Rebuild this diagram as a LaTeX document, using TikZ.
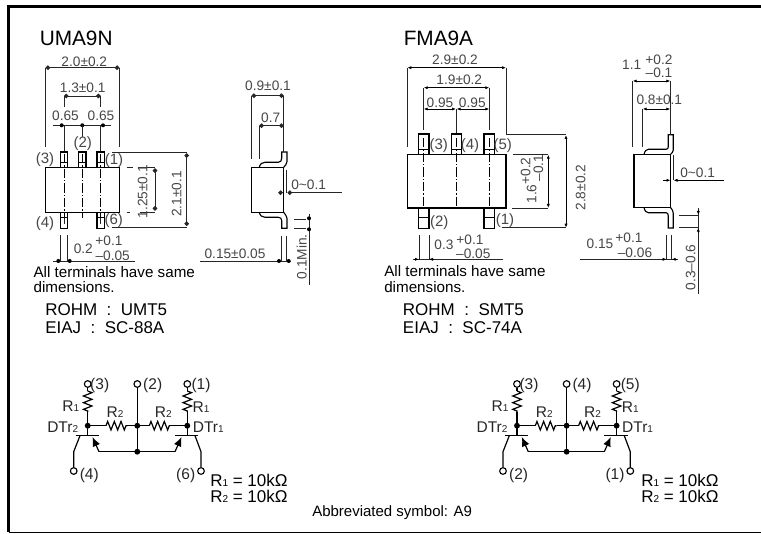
\documentclass[tikz,border=0pt]{standalone}
\usepackage{fontspec}
\setmainfont{Liberation Sans}
\usetikzlibrary{arrows.meta,decorations.pathmorphing}
\newcommand{\fsz}[1]{\fontsize{\dimexpr#1pt*3/4\relax}{\dimexpr#1pt*3/4\relax}\selectfont}
\newcommand{\sbs}[1]{{\fsz{10}#1}}
\tikzset{
  x=0.75pt,y=-0.75pt,
  dimtext/.style={inner sep=0pt,text=black!72,font=\fsz{13.7}},
  lab/.style={inner sep=0pt,text=black!72,font=\fsz{15}},
  bigtext/.style={inner sep=0pt,anchor=west,font=\fsz{20.8}},
  note/.style={inner sep=0pt,anchor=west,font=\fsz{15.2}},
  stdtext/.style={inner sep=0pt,anchor=west,font=\fsz{17}},
  circlab/.style={inner sep=0pt,font=\fsz{15.5},text=black!85},
  valtext/.style={inner sep=0pt,anchor=west,font=\fsz{17}},
  thin line/.style={line width=0.65pt,draw=black!85},
  part/.style={line width=0.85pt,draw=black},
  center line/.style={line width=0.5pt,draw=black,dash pattern=on 7pt off 1.5pt on 1pt off 1.5pt},
  dim/.style={line width=0.65pt,draw=black!85,{Circle[length=3.4pt]}-{Circle[length=3.4pt]}},
  dimsmall/.style={line width=0.6pt,draw=black,{Latex[length=3pt,width=2.4pt]}-{Latex[length=3pt,width=2.4pt]}},
  arrowin/.style={line width=0.65pt,draw=black!85,-{Circle[length=3.4pt]}},
  arrowinsmall/.style={line width=0.6pt,draw=black,-{Latex[length=3pt,width=2.4pt]}},
  wire/.style={line width=0.9pt,draw=black},
  term/.style={circle,draw=black,line width=0.85pt,fill=white,minimum size=5pt,inner sep=0pt},
  jdot/.style={circle,fill=black,minimum size=4.4pt,inner sep=0pt},
  res/.style={decorate,decoration={zigzag,segment length=5pt,amplitude=3.2pt}},
  emit/.style={wire,-{Latex[length=7pt,width=6pt]}},
}
\newcommand{\circuit}[7]{%
 \begin{scope}[shift={(#1,0)}]
  \coordinate (#2a) at (87.7,425.7);
  \coordinate (#2b) at (137.3,425.7);
  \coordinate (#2c) at (187.3,425.7);
  \coordinate (#2d) at (137.3,451.7);
  \coordinate (#2bl1) at (75.7,435.7);
  \coordinate (#2bl2) at (99,435.7);
  \coordinate (#2br1) at (175,435.7);
  \coordinate (#2br2) at (198.3,435.7);
  \coordinate (#2el) at (99,451.7);
  \coordinate (#2er) at (175,451.7);
  \coordinate (#2clk) at (73.7,451.7);
  \coordinate (#2crk) at (201,451.7);
  \node[term] (#2t1) at (87.7,384) {};
  \node[term] (#2t2) at (137.3,384) {};
  \node[term] (#2t3) at (187.3,384) {};
  \node[term] (#2t4) at (73.7,471) {};
  \node[term] (#2t5) at (201,471) {};
  \coordinate (#2r1a) at (87.7,391);
  \coordinate (#2r1b) at (87.7,412);
  \coordinate (#2r3a) at (187.3,391);
  \coordinate (#2r3b) at (187.3,412);
  \coordinate (#2r2a) at (106,425.7);
  \coordinate (#2r2b) at (127.3,425.7);
  \coordinate (#2r4a) at (149.3,425.7);
  \coordinate (#2r4b) at (170,425.7);
  \draw[wire] (#2t1) -- (#2r1a) (#2r1b) -- (#2a) -- (87.7,435.7);
  \draw[wire,res] (#2r1a) -- (#2r1b);
  \draw[wire] (#2t3) -- (#2r3a) (#2r3b) -- (#2c) -- (187.3,435.7);
  \draw[wire,res] (#2r3a) -- (#2r3b);
  \draw[wire] (#2a) -- (#2r2a) (#2r2b) -- (#2b) -- (#2r4a) (#2r4b) -- (#2c);
  \draw[wire,res] (#2r2a) -- (#2r2b);
  \draw[wire,res] (#2r4a) -- (#2r4b);
  \draw[wire] (#2t2) -- (#2d);
  \draw[line width=1.2pt] (#2bl1) -- (#2bl2) (#2br1) -- (#2br2);
  \draw[wire] (#2el) -- (#2er);
  \draw[emit] (#2el) -- (92.5,437);
  \draw[emit] (#2er) -- (181.5,437);
  \draw[wire] (80,435.7) -- (#2clk) -- (#2t4);
  \draw[wire] (195,435.7) -- (#2crk) -- (#2t5);
  \node[jdot] (#2j1) at (#2a) {};
  \node[jdot] (#2j2) at (#2b) {};
  \node[jdot] (#2j3) at (#2c) {};
  \node[jdot] (#2j4) at (#2d) {};
  \node[circlab] (#2l1) at (99.7,385) {#3};
  \node[circlab] (#2l2) at (152.7,385) {#4};
  \node[circlab] (#2l3) at (201,385) {#5};
  \node[circlab] (#2l4) at (89.3,475.7) {#6};
  \node[circlab] (#2l5) at (185.7,475.7) {#7};
  \node[circlab] (#2l6) at (70.7,406) {R\sbs{1}};
  \node[circlab] (#2l7) at (201,406.7) {R\sbs{1}};
  \node[circlab] (#2l8) at (115,412.3) {R\sbs{2}};
  \node[circlab] (#2l9) at (163.3,412.3) {R\sbs{2}};
  \node[circlab] (#2l10) at (62.7,426.7) {DTr\sbs{2}};
  \node[circlab] (#2l11) at (208.3,426.7) {DTr\sbs{1}};
 \end{scope}
}
\begin{document}
\begin{tikzpicture}
\useasboundingbox (0,0) rectangle (761,534);
\fill[white] (0,0) rectangle (761,534);
% frame: the right side is open
\draw[line width=2pt] (761,6.5) -- (8.5,6.5) -- (8.5,532.5);
\draw[line width=1.3pt] (8.5,532.5) -- (761,532.5);

% ---- UMA9N front view
\node[bigtext] (t1) at (39.5,38.3) {UMA9N};
\draw[part] (45.7,167.3) rectangle (119.3,212.3);
\foreach \a/\b in {60.3/67.3,78.7/86,97/104.3}{
  \draw[part] (\a,167.3) -- (\a,152) -- (\b,152) -- (\b,167.3) (\a,162.3) -- (\b,162.3);
}
\foreach \a/\b in {60.3/67.3,97/104.3}{
  \draw[part] (\a,212.3) -- (\a,228.3) -- (\b,228.3) -- (\b,212.3) (\a,217.3) -- (\b,217.3);
}
\foreach \c/\e in {64/218,82.3/218,100.7/218}{\draw[center line] (\c,154) -- (\c,\e);}
\draw[thin line] (64,218) -- (64,224) (100.7,218) -- (100.7,224);
% dims
\draw[dim] (45.7,67.7) -- (119.3,67.7);
\draw[thin line] (45.7,67.7) -- (45.7,147) (119.3,67.7) -- (119.3,147);
\node[dimtext] (d1) at (84.3,61.7) {2.0±0.2};
\draw[dim] (64,96) -- (100.7,96);
\draw[thin line] (64,96) -- (64,107) (100.7,96) -- (100.7,107);
\node[dimtext] (d2) at (82.7,87.7) {1.3±0.1};
\draw[thin line] (52.7,125.3) -- (110.7,125.3);
\foreach \c in {61.7,82.3,103}{\fill (\c,125.3) circle (1.5pt);}
\draw[thin line] (64,125.3) -- (64,151) (82.3,125.3) -- (82.3,137) (100.7,125.3) -- (100.7,151);
\node[dimtext] (d3) at (65.5,115.7) {0.65};
\node[dimtext] (d4) at (101,115.7) {0.65};
\node[lab] at (82.7,144) {(2)};
\node[lab] at (45,160) {(3)};
\node[lab] at (114,161) {(1)};
\node[lab] at (45,224) {(4)};
\node[lab] at (113.7,220.3) {(6)};
% right dims
\draw[thin line] (111.7,152) -- (187,152) (111.7,227.3) -- (187,227.3);
\draw[dim] (186.7,153.3) -- (186.7,226);
\node[dimtext,rotate=90] at (176.7,194) {2.1±0.1};
\draw[thin line] (126.7,167.3) -- (133,167.3) (138,167.3) -- (155,167.3);
\draw[thin line] (126.7,212.3) -- (130,212.3) (140,212.3) -- (155,212.3);
\draw[dim] (155,168.3) -- (155,210.7);
\node[dimtext,rotate=90] at (142.7,191.7) {1.25±0.1};
% bottom dim
\draw[thin line] (60.3,235.3) -- (60.3,261) (67.7,235.3) -- (67.7,261);
\draw[thin line] (53.3,261) -- (135,261);
\fill (58.3,261) circle (1.5pt) (69.7,261) circle (1.5pt);
\node[dimtext] at (83.3,248.7) {0.2};
\node[dimtext] at (109,240.7) {+0.1};
\node[dimtext] at (112.7,255.7) {–0.05};
\node[note] at (33.3,272) {All terminals have same};
\node[note] at (33.3,287.3) {dimensions.};
\node[stdtext] at (45,310) {ROHM\ \ :\ \ UMT5};
\node[stdtext] at (45,327.3) {EIAJ\ \ :\ \ SC-88A};

% ---- UMA9N side view
\draw[part] (251.7,167.3) rectangle (283.7,212.3);
\draw[part] (259.3,167.3) .. controls (260,164) and (262,162.3) .. (265,162.3) -- (278.3,162.3) .. controls (280.5,162.3) and (281.7,160.5) .. (281.7,158.3) -- (281.7,152) -- (287,152) -- (287,161.7) .. controls (287,164) and (285,165.5) .. (283.7,167.3);
\draw[part] (259.3,212.3) .. controls (260,215.5) and (262,217.3) .. (265,217.3) -- (278.3,217.3) .. controls (280.5,217.3) and (281.7,218.5) .. (281.7,220.7) -- (281.7,228.3) -- (287,228.3) -- (287,218.3) .. controls (287,216) and (285,214.5) .. (283.7,212.3);
\draw[dim] (251.7,95.7) -- (283.7,95.7);
\draw[thin line] (251.7,95.7) -- (251.7,159.3) (283.7,95.7) -- (283.7,152);
\node[dimtext] at (268,85.7) {0.9±0.1};
\draw[thin line] (259.3,125.7) -- (259.3,159.3);
\draw[dim] (259.3,125.7) -- (283.7,125.7);
\node[dimtext] at (270.7,117.3) {0.7};
\draw[thin line] (286.7,170) -- (286.7,193);
\draw[arrowin] (341.7,192.7) -- (287.5,192.7);
\draw[arrowin] (279,192.7) -- (282.8,192.7);
\node[dimtext] at (308.7,184.3) {0\textasciitilde0.1};
\draw[thin line] (281,235.7) -- (281,261) (286.7,235.7) -- (286.7,261);
\draw[thin line] (200,261) -- (290.7,261);
\fill (279,261) circle (1.5pt) (288.7,261) circle (1.5pt);
\node[dimtext] at (235,254) {0.15±0.05};
\draw[thin line] (294,219) -- (306,219) (294,228.3) -- (306,228.3);
\draw[thin line] (309,214.3) -- (309,285);
\fill (309,218.3) circle (1.5pt) (309,229.3) circle (1.5pt);
\node[dimtext,rotate=90] at (301.7,256.7) {0.1Min.};

% ---- FMA9A front view
\node[bigtext] (t2) at (403.5,38.3) {FMA9A};
\draw[part] (407.3,154.7) rectangle (506,208);
\foreach \a/\b in {418.3/429,451.7/461.7,484/494.7}{
  \draw[part] (\a,154.7) -- (\a,134) -- (\b,134) -- (\b,154.7) (\a,149.3) -- (\b,149.3);
}
\foreach \a/\b in {418.3/429,484/494.7}{
  \draw[part] (\a,208) -- (\a,228.3) -- (\b,228.3) -- (\b,208) (\a,217.7) -- (\b,217.7);
}
\foreach \c in {423.7,456.3,489.3}{\draw[center line] (\c,138) -- (\c,207);}
\draw[dimsmall] (407.3,67.7) -- (506,67.7);
\draw[thin line] (407.3,67.7) -- (407.3,147.3) (506,67.7) -- (506,134);
\node[dimtext] at (455,60) {2.9±0.2};
\draw[dimsmall] (423.7,87.7) -- (489.3,87.7);
\draw[thin line] (423.7,87.7) -- (423.7,130) (489.3,87.7) -- (489.3,130) (456.3,109) -- (456.3,133);
\node[dimtext] at (459.3,80) {1.9±0.2};
\draw[dimsmall] (423.7,109) -- (456,109);
\draw[dimsmall] (456.6,109) -- (489.3,109);
\node[dimtext] at (440,102.3) {0.95};
\node[dimtext] at (472.3,102.3) {0.95};
\node[lab] at (438.7,146) {(3)};
\node[lab] at (470,146) {(4)};
\node[lab] at (502.7,146) {(5)};
\node[lab] at (439.3,222.7) {(2)};
\node[lab] at (505,221) {(1)};
\draw[thin line] (506,134.7) -- (566,134.7) (501.7,227.3) -- (566,227.3);
\draw[dimsmall] (566,135) -- (566,227.7);
\node[dimtext,rotate=90] at (580.7,187.7) {2.8±0.2};
\draw[thin line] (513.3,154.7) -- (548.3,154.7) (512,208) -- (548.3,208);
\draw[dimsmall] (548.3,154.7) -- (548.3,208);
\node[dimtext,rotate=90] at (531.7,194) {1.6};
\node[dimtext,rotate=90] at (525.7,171) {+0.2};
\node[dimtext,rotate=90] at (538.3,168) {–0.1};
\draw[thin line] (419,235) -- (419,259.3) (429,235) -- (429,259.3);
\draw[thin line] (413.3,259.3) -- (503.3,259.3);
\draw[arrowinsmall] (414,259.3) -- (419,259.3);
\draw[arrowinsmall] (434,259.3) -- (429,259.3);
\node[dimtext] at (444,245) {0.3};
\node[dimtext] at (470,240) {+0.1};
\node[dimtext] at (473.3,253.3) {–0.05};
\node[note] at (384,271) {All terminals have same};
\node[note] at (384,286.7) {dimensions.};
\node[stdtext] at (402.7,310) {ROHM\ \ :\ \ SMT5};
\node[stdtext] at (402.7,327.3) {EIAJ\ \ :\ \ SC-74A};

% ---- FMA9A side view
\draw[part] (634,154.3) rectangle (670.7,207.7);
\draw[part] (644,154.3) .. controls (645,151) and (646,149.3) .. (648.3,149.3) -- (666,149.3) .. controls (667.5,149.3) and (668.3,148.3) .. (668.3,146.7) -- (668.3,134.7) -- (673.3,134.7) -- (673.3,150) .. controls (673.3,152) and (672,152.5) .. (670.7,154.3);
\draw[part] (644,207.7) .. controls (645,211) and (646,212.7) .. (648.3,212.7) -- (666,212.7) .. controls (667.5,212.7) and (668.3,214) .. (668.3,216) -- (668.3,228) -- (673.3,228) -- (673.3,213.3) .. controls (673.3,211) and (672,209.5) .. (670.7,207.7);
\draw[dimsmall] (632.7,81) -- (670.3,81);
\draw[thin line] (632.7,81) -- (632.7,147.3) (670.3,81) -- (670.3,134.7);
\node[dimtext] at (631.7,65) {1.1};
\node[dimtext] at (659,60) {+0.2};
\node[dimtext] at (659,72.3) {–0.1};
\draw[dimsmall] (642.7,109) -- (670.3,109);
\draw[thin line] (642.7,109) -- (642.7,146.7);
\node[dimtext] at (659.3,99.3) {0.8±0.1};
\draw[thin line] (673.3,155) -- (673.3,180.3);
\draw[arrowinsmall] (724.3,180.3) -- (673.5,180.3);
\draw[arrowinsmall] (663.3,180.3) -- (670.5,180.3);
\node[dimtext] at (697.7,172.3) {0\textasciitilde0.1};
\draw[thin line] (666.7,235) -- (666.7,259.3) (671.7,235) -- (671.7,259.3);
\draw[thin line] (580,259.3) -- (678.3,259.3);
\draw[arrowinsmall] (662,259.3) -- (666.7,259.3);
\draw[arrowinsmall] (676.5,259.3) -- (671.7,259.3);
\node[dimtext] at (600,243.3) {0.15};
\node[dimtext] at (629,237.7) {+0.1};
\node[dimtext] at (635,252.3) {–0.06};
\draw[thin line] (679,215) -- (698.3,215);
\draw[line width=1pt,draw=black!85] (679,227.7) -- (698.3,227.7);
\draw[thin line] (698.3,208.3) -- (698.3,294);
\draw[arrowinsmall] (698.3,210) -- (698.3,215);
\draw[arrowinsmall] (698.3,233) -- (698.3,227.7);
\node[dimtext,rotate=90] at (690.7,267.3) {0.3–0.6};

% ---- circuits
\circuit{0}{ca}{(3)}{(2)}{(1)}{(4)}{(6)}
\circuit{429.3}{cb}{(3)}{(4)}{(5)}{(2)}{(1)}
\node[valtext] at (210,480.7) {R\sbs{1} = 10kΩ};
\node[valtext] at (210,496.7) {R\sbs{2} = 10kΩ};
\node[valtext] at (641,480.7) {R\sbs{1} = 10kΩ};
\node[valtext] at (641,496.7) {R\sbs{2} = 10kΩ};
\node[inner sep=0pt,anchor=west,font=\fsz{15}] at (312,513) {Abbreviated symbol: A9};
\end{tikzpicture}
\end{document}
